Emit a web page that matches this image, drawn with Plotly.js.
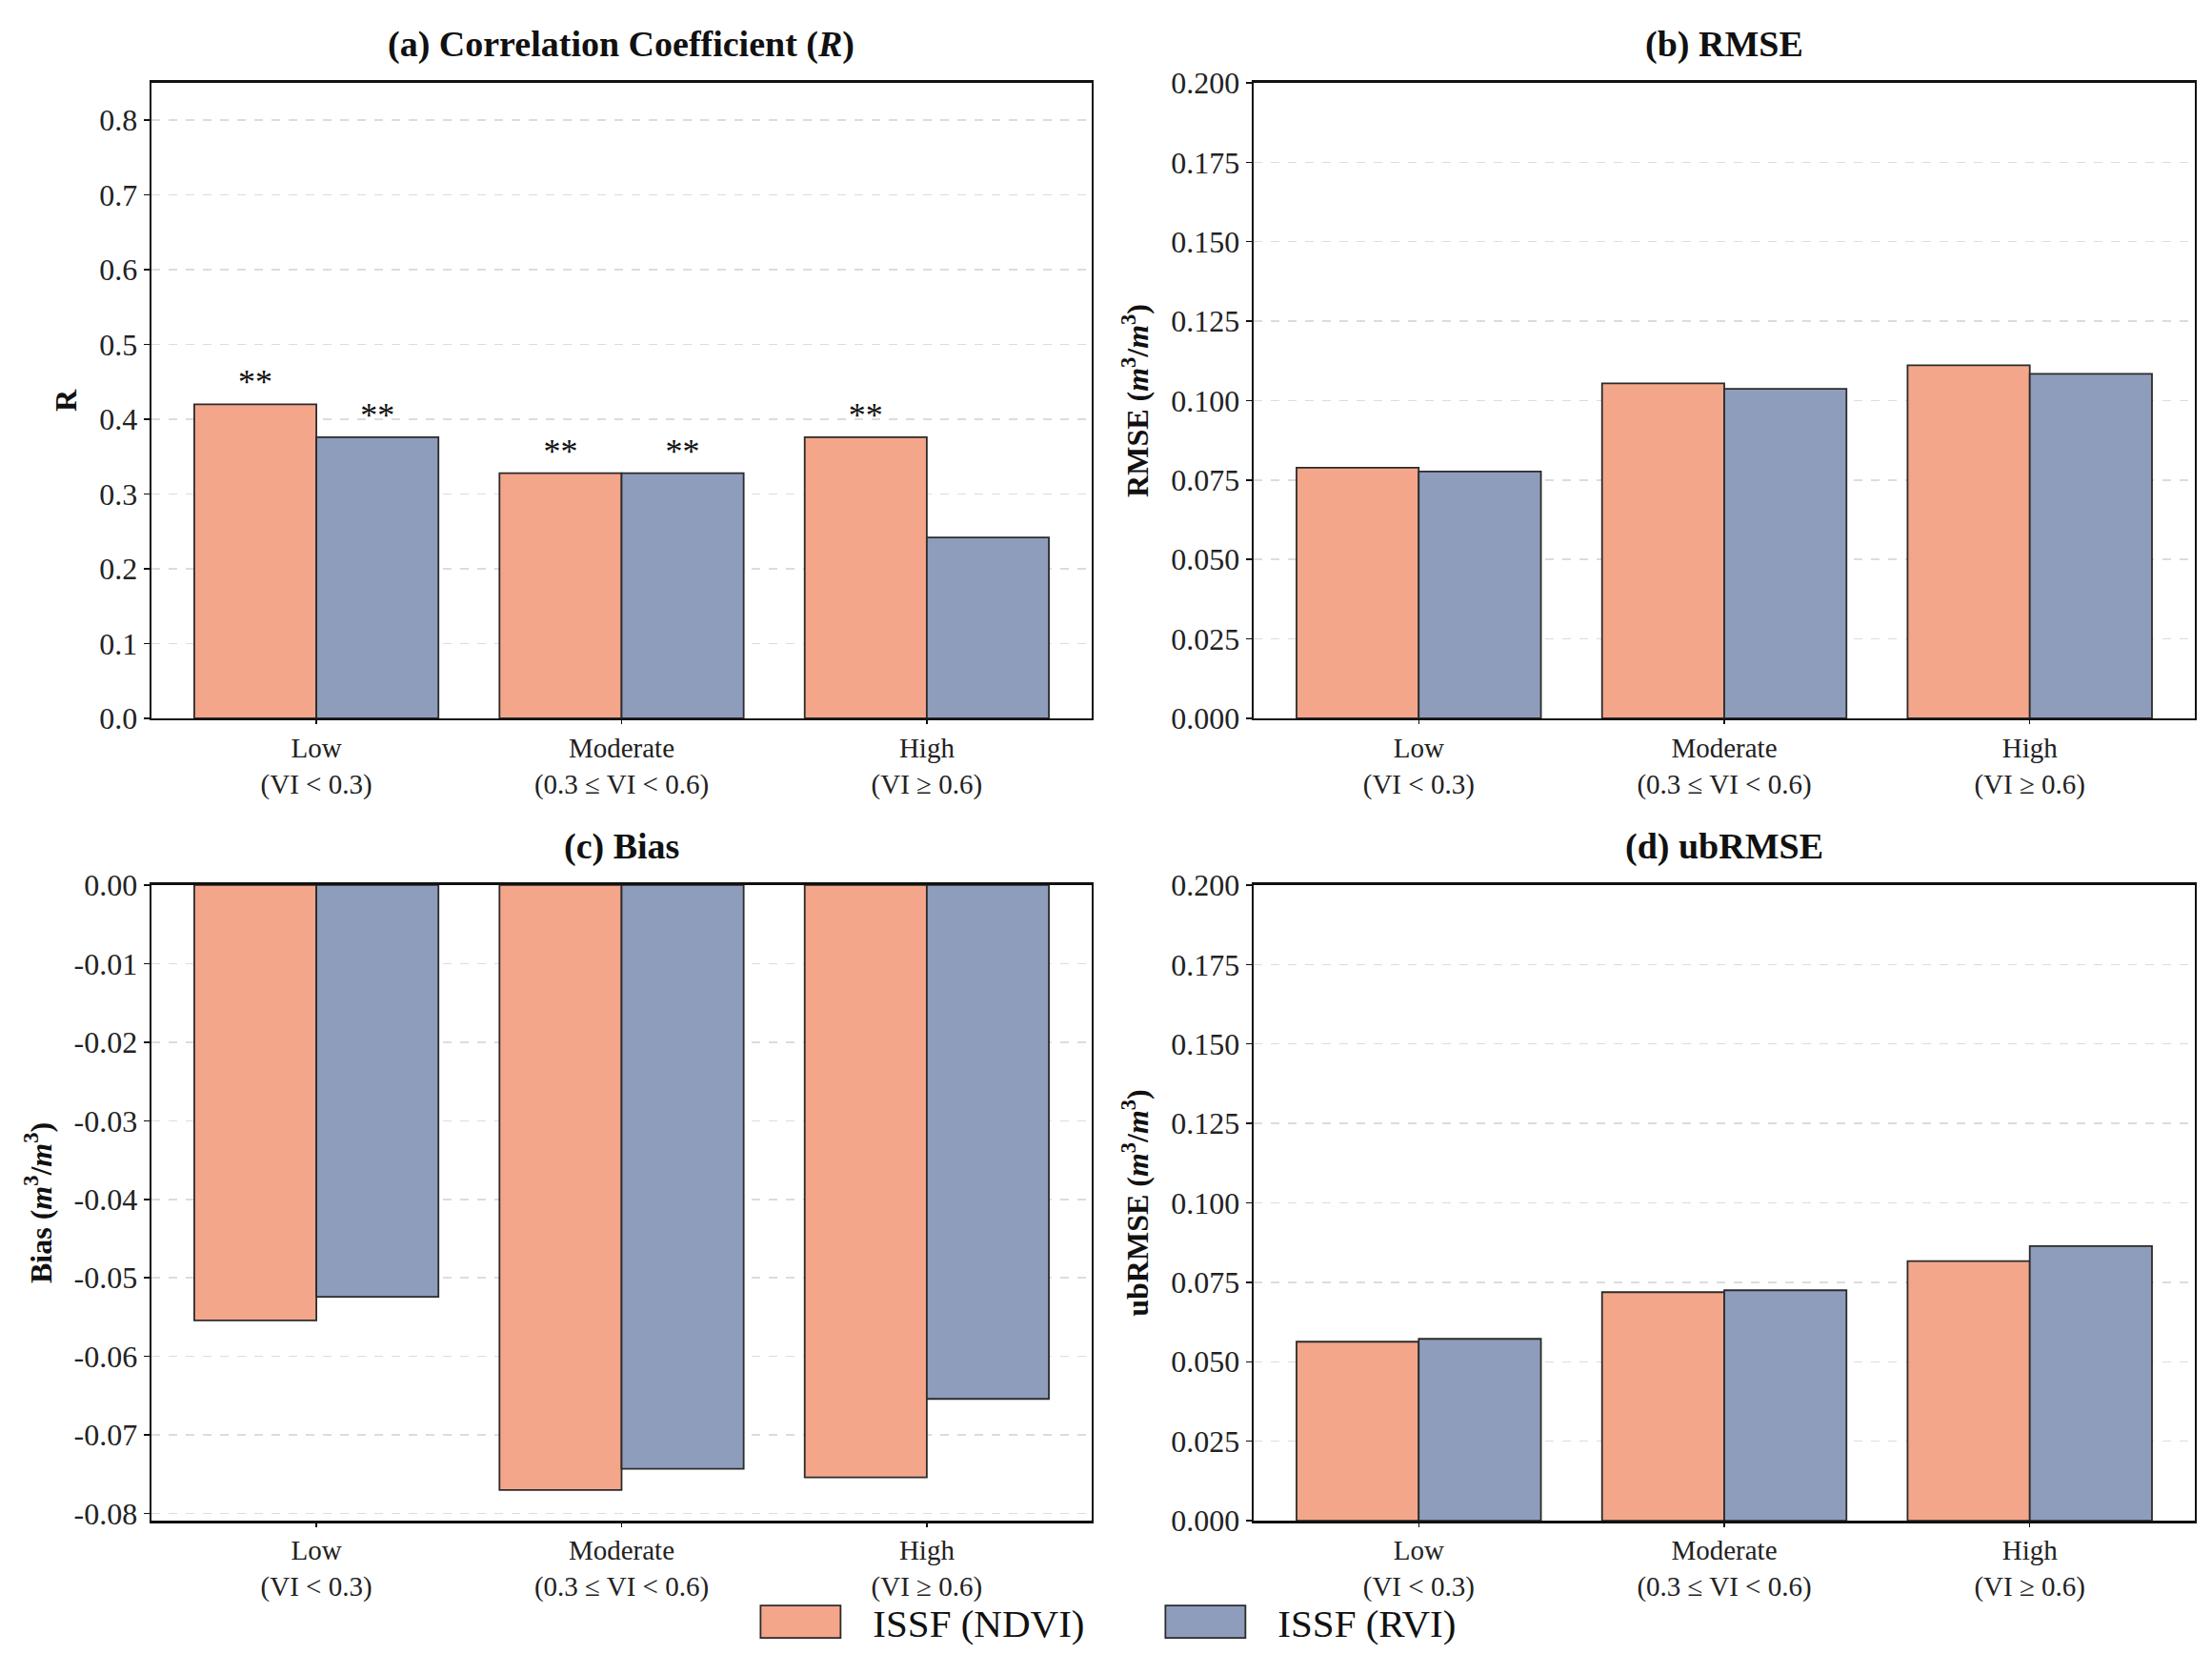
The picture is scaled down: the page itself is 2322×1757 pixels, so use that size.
<!DOCTYPE html>
<html>
<head>
<meta charset="utf-8">
<script src="https://cdn.plot.ly/plotly-3.0.1.min.js"></script>
<style>
  body { margin: 0; background: #fff; }
  #chart { width: 2322px; height: 1757px; }
</style>
</head>
<body>
<div id="chart"></div>
<script>
// categories (x tick labels)
var categories = ['Low<br>(VI &lt; 0.3)', 'Moderate<br>(0.3 &#8804; VI &lt; 0.6)', 'High<br>(VI &#8805; 0.6)'];
var seriesNames = ['ISSF (NDVI)', 'ISSF (RVI)'];

// (a) correlation coefficient R
var r_ndvi = [0.420, 0.328, 0.376];
var r_rvi = [0.376, 0.328, 0.242];
var sig_ndvi = ['**', '**', '**'];
var sig_rvi = ['**', '**', ''];

// (b) RMSE
var rmse_ndvi = [0.0789, 0.1054, 0.1111];
var rmse_rvi = [0.0777, 0.1037, 0.1084];

// (c) Bias
var bias_ndvi = [-0.0554, -0.0770, -0.0754];
var bias_rvi = [-0.0524, -0.0743, -0.0654];
var biasTicks = [0, -0.01, -0.02, -0.03, -0.04, -0.05, -0.06, -0.07, -0.08];
var biasTickText = ['0.00', '-0.01', '-0.02', '-0.03', '-0.04', '-0.05', '-0.06', '-0.07', '-0.08'];

// (d) ubRMSE
var ubrmse_ndvi = [0.0563, 0.0719, 0.0817];
var ubrmse_rvi = [0.0572, 0.0725, 0.0864];

var colNdvi = '#F4A68B';
var colRvi = '#8F9DBC';
var edge = '#2b2b2b';
var font = 'Liberation Serif, Times New Roman, serif';

function bar(y, name, color, xa, ya, show, txt) {
    var t = {
        type: 'bar',
        x: categories,
        y: y,
        name: name,
        xaxis: xa,
        yaxis: ya,
        showlegend: show,
        legendgroup: name,
        marker: {color: color, line: {color: edge, width: 1.8}},
        hoverinfo: 'skip',
        cliponaxis: false
    };
    if (txt) {
        t.text = txt;
        t.textposition = 'outside';
        t.textfont = {family: font, size: 36, color: '#111'};
    }
    return t;
}

var data = [
    bar(r_ndvi, seriesNames[0], colNdvi, 'x', 'y', true, sig_ndvi),
    bar(r_rvi, seriesNames[1], colRvi, 'x', 'y', true, sig_rvi),
    bar(rmse_ndvi, seriesNames[0], colNdvi, 'x2', 'y2', false),
    bar(rmse_rvi, seriesNames[1], colRvi, 'x2', 'y2', false),
    bar(bias_ndvi, seriesNames[0], colNdvi, 'x3', 'y3', false),
    bar(bias_rvi, seriesNames[1], colRvi, 'x3', 'y3', false),
    bar(ubrmse_ndvi, seriesNames[0], colNdvi, 'x4', 'y4', false),
    bar(ubrmse_rvi, seriesNames[1], colRvi, 'x4', 'y4', false)
];

function xax(dom, anchor) {
    return {
        domain: dom, anchor: anchor,
        range: [-0.54, 2.54],
        showline: true, mirror: true, linecolor: '#111', linewidth: 2.5,
        ticks: 'outside', ticklen: 4, tickwidth: 1.5, tickcolor: '#111',
        showgrid: false,
        tickfont: {family: font, size: 29, color: '#222'},
        fixedrange: true
    };
}
function yax(dom, anchor, range, dtick, fmt, title) {
    return {
        domain: dom, anchor: anchor,
        range: range, dtick: dtick, tick0: 0, tickformat: fmt,
        showline: true, mirror: true, linecolor: '#111', linewidth: 2.5,
        ticks: 'outside', ticklen: 6, tickwidth: 1.5, tickcolor: '#111',
        showgrid: true, gridcolor: '#dcdcdc', griddash: 'dash', gridwidth: 1.5,
        zeroline: false,
        tickfont: {family: font, size: 32, color: '#222'},
        title: {text: title, standoff: 14, font: {family: font, size: 32, color: '#111', weight: 'bold'}},
        fixedrange: true
    };
}

var colL = [0.0685, 0.4935], colR = [0.5668, 0.9922];
var rowT = [0.5709, 0.9505], rowB = [0.0916, 0.4713];
var unit = ' (<i>m</i><sup>3</sup>/<i>m</i><sup>3</sup>)';

var yaxis3 = yax(rowB, 'x3', [-0.0809, 0], 0.01, '.2f', 'Bias' + unit);
yaxis3.tickmode = 'array';
yaxis3.tickvals = biasTicks;
yaxis3.ticktext = biasTickText;

function panelTitle(text, xa, ya) {
    return {
        text: text, xref: xa + ' domain', yref: ya + ' domain',
        x: 0.5, y: 1, xanchor: 'center', yanchor: 'bottom', yshift: 17,
        showarrow: false,
        font: {family: font, size: 38, color: '#111', weight: 'bold'}
    };
}

var layout = {
    width: 2322, height: 1757,
    margin: {l: 0, r: 0, t: 0, b: 0},
    paper_bgcolor: '#fff', plot_bgcolor: '#fff',
    barmode: 'group', bargap: 0.2, bargroupgap: 0,
    font: {family: font, color: '#222'},
    xaxis: xax(colL, 'y'),
    yaxis: yax(rowT, 'x', [0, 0.85], 0.1, '.1f', 'R'),
    xaxis2: xax(colR, 'y2'),
    yaxis2: yax(rowT, 'x2', [0, 0.2], 0.025, '.3f', 'RMSE' + unit),
    xaxis3: xax(colL, 'y3'),
    yaxis3: yaxis3,
    xaxis4: xax(colR, 'y4'),
    yaxis4: yax(rowB, 'x4', [0, 0.2], 0.025, '.3f', 'ubRMSE' + unit),
    annotations: [
        panelTitle('(a) Correlation Coefficient (<i>R</i>)', 'x', 'y'),
        panelTitle('(b) RMSE', 'x2', 'y2'),
        panelTitle('(c) Bias', 'x3', 'y3'),
        panelTitle('(d) ubRMSE', 'x4', 'y4')
    ],
    showlegend: true,
    legend: {
        orientation: 'h', x: 0.526, xanchor: 'center', y: 0.031, yanchor: 'middle',
        font: {family: font, size: 41, color: '#111'},
        itemwidth: 110, entrywidth: 300, itemclick: false, itemdoubleclick: false,
        bgcolor: 'rgba(0,0,0,0)'
    }
};

Plotly.newPlot('chart', data, layout, {staticPlot: true, displayModeBar: false}).then(function () {
    // stretch the legend swatches into wide rectangles like the original
    document.querySelectorAll('.legend .legendpoints path').forEach(function (p) {
        p.setAttribute('d', 'M-58,-17H26V17H-58Z');
    });
});
</script>
</body>
</html>
